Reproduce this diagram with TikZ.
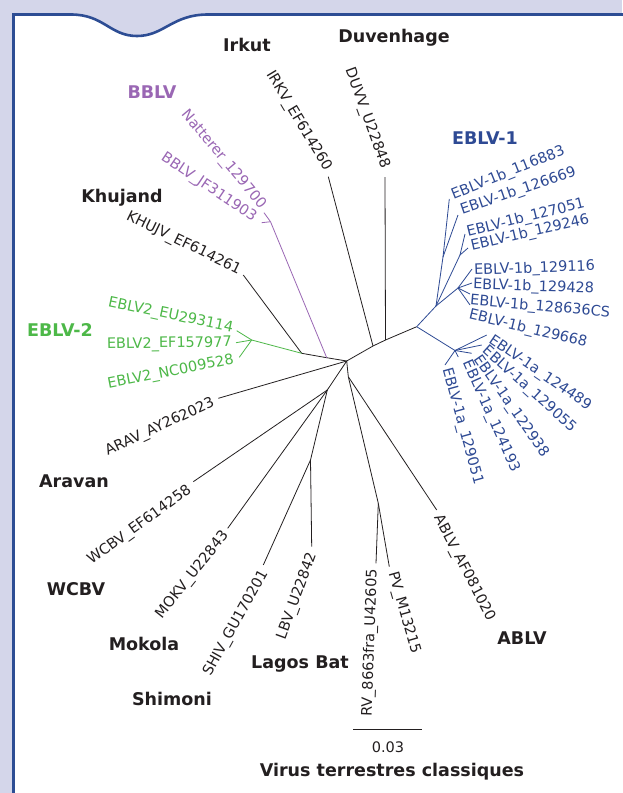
\documentclass[tikz,border=0pt]{standalone}
\usepackage{fontspec}
\setmainfont{DejaVu Sans}
\definecolor{lav}{HTML}{D4D6EA}
\definecolor{frame}{HTML}{2D4D94}
\definecolor{ink}{HTML}{231F20}
\definecolor{bbl}{HTML}{9A67B4}
\definecolor{grn}{HTML}{4DB848}
\definecolor{blu}{HTML}{2E4A94}
\begin{document}
\begin{tikzpicture}[x=1pt,y=-1pt,
  br/.style={line width=0.8pt, draw=ink},
  lab/.style={inner sep=0pt, font=\fontsize{14.5}{17}\selectfont, text=ink},
  ttl/.style={inner sep=0pt, font=\bfseries\fontsize{17.5}{20}\selectfont, text=ink}]
\useasboundingbox (0,0) rectangle (622,793);
\fill[lav] (0,0) rectangle (622,793);
\fill[white] (13.5,800) -- (13.5,14.5) -- (71,14.5) .. controls (104,14.5) and (110,36) .. (137,36) .. controls (164,36) and (172,14.5) .. (208,14.5) -- (630,14.5) -- (630,800) -- cycle;
\draw[frame, line width=2.6pt] (13.5,800) -- (13.5,14.5) -- (71,14.5) .. controls (104,14.5) and (110,36) .. (137,36) .. controls (164,36) and (172,14.5) .. (208,14.5) -- (630,14.5);

% internal nodes
\coordinate (A) at (346.7,361);
\coordinate (A2) at (348.3,376.7);
\coordinate (C) at (327.3,390);
\coordinate (D) at (310.5,460);
\coordinate (E) at (378.3,503.3);
\coordinate (B) at (326.7,357.7);
\coordinate (J) at (301.7,353.3);
\coordinate (G) at (251.7,340);
\coordinate (P) at (270.5,221.7);
\coordinate (I) at (373,346);
\coordinate (Du) at (385.5,340);
\coordinate (N1) at (416.7,326.7);
\coordinate (N1b) at (436,306);
\coordinate (N1a) at (455,350.5);
\coordinate (Xa) at (443,257);
\coordinate (Xb) at (460,255);
\coordinate (Xc) at (458,288);
% leaves
\coordinate (irk) at (328.3,176.7);
\coordinate (duv) at (385,177);
\coordinate (nat) at (264,212.7);
\coordinate (bjf) at (261.7,222.7);
\coordinate (khu) at (243.3,275);
\coordinate (eu) at (236.7,330.7);
\coordinate (ef) at (236,342.7);
\coordinate (nc) at (239.3,357.3);
\coordinate (arav) at (218.3,398.3);
\coordinate (wcbv) at (193.3,481.7);
\coordinate (mokv) at (227.7,528.3);
\coordinate (shiv) at (263.3,565);
\coordinate (lbv) at (311.7,546.7);
\coordinate (rv) at (376,563.3);
\coordinate (pv) at (389.3,566.7);
\coordinate (ablv) at (436.7,510);
\coordinate (b1) at (449.3,199);
\coordinate (b2) at (458,215);
\coordinate (b3) at (465,234);
\coordinate (b4) at (468,248);
\coordinate (b5) at (472,269);
\coordinate (b6) at (472,283);
\coordinate (b7) at (470,294);
\coordinate (b8) at (470,305);
\coordinate (a1) at (486.7,335);
\coordinate (a2) at (481.7,345);
\coordinate (a3) at (471.7,353.3);
\coordinate (a4) at (458.3,357);
\coordinate (a5) at (445,365);

% black branches
\draw[br] (J) -- (B) -- (A) -- (I) -- (Du) -- (N1);
\draw[br] (khu) -- (J);
\draw[br] (irk) -- (I);
\draw[br] (duv) -- (Du);
\draw[br] (arav) -- (A);
\draw[br] (A) -- (A2);
\draw[br] (A) -- (C);
\draw[br] (C) -- (wcbv);
\draw[br] (C) -- (mokv);
\draw[br] (C) -- (D);
\draw[br] (D) -- (shiv);
\draw[br] (D) -- (lbv);
\draw[br] (A2) -- (E);
\draw[br] (A2) -- (ablv);
\draw[br] (E) -- (rv);
\draw[br] (E) -- (pv);
% purple
\draw[br, draw=bbl] (B) -- (P);
\draw[br, draw=bbl] (P) -- (nat);
\draw[br, draw=bbl] (P) -- (bjf);
% green
\draw[br, draw=grn] (J) -- (G);
\draw[br, draw=grn] (G) -- (eu);
\draw[br, draw=grn] (G) -- (ef);
\draw[br, draw=grn] (G) -- (nc);
% blue
\draw[br, draw=blu] (N1) -- (N1b);
\draw[br, draw=blu] (N1) -- (N1a);
\draw[br, draw=blu] (N1b) -- (Xa);
\draw[br, draw=blu] (N1b) -- (Xb);
\draw[br, draw=blu] (N1b) -- (Xc);
\draw[br, draw=blu] (Xa) -- (b1);
\draw[br, draw=blu] (Xa) -- (b2);
\draw[br, draw=blu] (Xb) -- (b3);
\draw[br, draw=blu] (Xb) -- (b4);
\draw[br, draw=blu] (Xc) -- (b5);
\draw[br, draw=blu] (Xc) -- (b6);
\draw[br, draw=blu] (Xc) -- (b7);
\draw[br, draw=blu] (Xc) -- (b8);
\draw[br, draw=blu] (N1a) -- (a1);
\draw[br, draw=blu] (N1a) -- (a2);
\draw[br, draw=blu] (N1a) -- (a3);
\draw[br, draw=blu] (N1a) -- (a4);
\draw[br, draw=blu] (N1a) -- (a5);

% leaf labels
\node[lab, anchor=east, rotate=-59] (tirk) at (328,170) {IRKV\_EF614260};
\node[lab, anchor=east, rotate=-70] (tduv) at (385,168) {DUVV\_U22848};
\node[lab, anchor=east, rotate=-50, text=bbl] (tnat) at (263,207) {Natterer\_129700};
\node[lab, anchor=east, rotate=-34, text=bbl] (tbjf) at (255,219) {BBLV\_JF311903};
\node[lab, anchor=east, rotate=-26] (tkhu) at (240,271) {KHUJV\_EF614261};
\node[lab, anchor=east, rotate=-12, text=grn] (teu) at (233,329) {EBLV2\_EU293114};
\node[lab, anchor=east, rotate=1, text=grn] (tef) at (232,343) {EBLV2\_EF157977};
\node[lab, anchor=east, rotate=11, text=grn] (tnc) at (234,360) {EBLV2\_NC009528};
\node[lab, anchor=east, rotate=25] (tarav) at (214,402) {ARAV\_AY262023};
\node[lab, anchor=east, rotate=36] (twcbv) at (190,489) {WCBV\_EF614258};
\node[lab, anchor=east, rotate=51.5] (tmokv) at (226,533) {MOKV\_U22843};
\node[lab, anchor=east, rotate=61] (tshiv) at (265,571) {SHIV\_GU170201};
\node[lab, anchor=east, rotate=70] (tlbv) at (313,553) {LBV\_U22842};
\node[lab, anchor=east, rotate=88] (trv) at (373,569) {RV\_8663fra\_U42605};
\node[lab, anchor=west, rotate=-74] (tpv) at (392,572) {PV\_M13215};
\node[lab, anchor=west, rotate=-62.6] (tablv) at (437,516) {ABLV\_AF081020};
\node[lab, anchor=west, rotate=22, text=blu] (tb1) at (452,196) {EBLV-1b\_116883};
\node[lab, anchor=west, rotate=19, text=blu] (tb2) at (461,211) {EBLV-1b\_126669};
\node[lab, anchor=west, rotate=14, text=blu] (tb3) at (467,233) {EBLV-1b\_127051};
\node[lab, anchor=west, rotate=13, text=blu] (tb4) at (471,247) {EBLV-1b\_129246};
\node[lab, anchor=west, rotate=2, text=blu] (tb5) at (474,271) {EBLV-1b\_129116};
\node[lab, anchor=west, rotate=-2, text=blu] (tb6) at (473,285) {EBLV-1b\_129428};
\node[lab, anchor=west, rotate=-5, text=blu] (tb7) at (470,301) {EBLV-1b\_128636CS};
\node[lab, anchor=west, rotate=-13.5, text=blu] (tb8) at (469,315) {EBLV-1b\_129668};
\node[lab, anchor=west, rotate=-34.4, text=blu] (ta1) at (490,339) {EBLV-1a\_124489};
\node[lab, anchor=west, rotate=-42, text=blu] (ta2) at (484,349) {EBLV-1a\_129055};
\node[lab, anchor=west, rotate=-55, text=blu] (ta3) at (476,357) {EBLV-1a\_122938};
\node[lab, anchor=west, rotate=-66, text=blu] (ta4) at (466,361) {EBLV-1a\_124193};
\node[lab, anchor=west, rotate=-74.6, text=blu] (ta5) at (446,368) {EBLV-1a\_129051};

% group titles
\node[ttl] (hirk) at (247,45) {Irkut};
\node[ttl] (hduv) at (394,38) {Duvenhage};
\node[ttl, text=bbl] (hbblv) at (152,92) {BBLV};
\node[ttl] (hkhu) at (122,198) {Khujand};
\node[ttl, text=grn] (heblv2) at (60,330) {EBLV-2};
\node[ttl, text=blu] (heblv1) at (485,138) {EBLV-1};
\node[ttl] (harav) at (74,481) {Aravan};
\node[ttl] (hwcbv) at (76,589) {WCBV};
\node[ttl] (hmok) at (144,644) {Mokola};
\node[ttl] (hshi) at (172,699) {Shimoni};
\node[ttl] (hlag) at (300,664) {Lagos Bat};
\node[ttl] (hablv) at (522,638) {ABLV};
\node[ttl] (hvir) at (392,772) {Virus terrestres classiques};

% scale bar
\coordinate (s1) at (353.3,729.3);
\coordinate (s2) at (421.7,729.3);
\draw[br] (s1) -- (s2);
\node[lab] (tscale) at (388,747) {0.03};
\end{tikzpicture}
\end{document}
